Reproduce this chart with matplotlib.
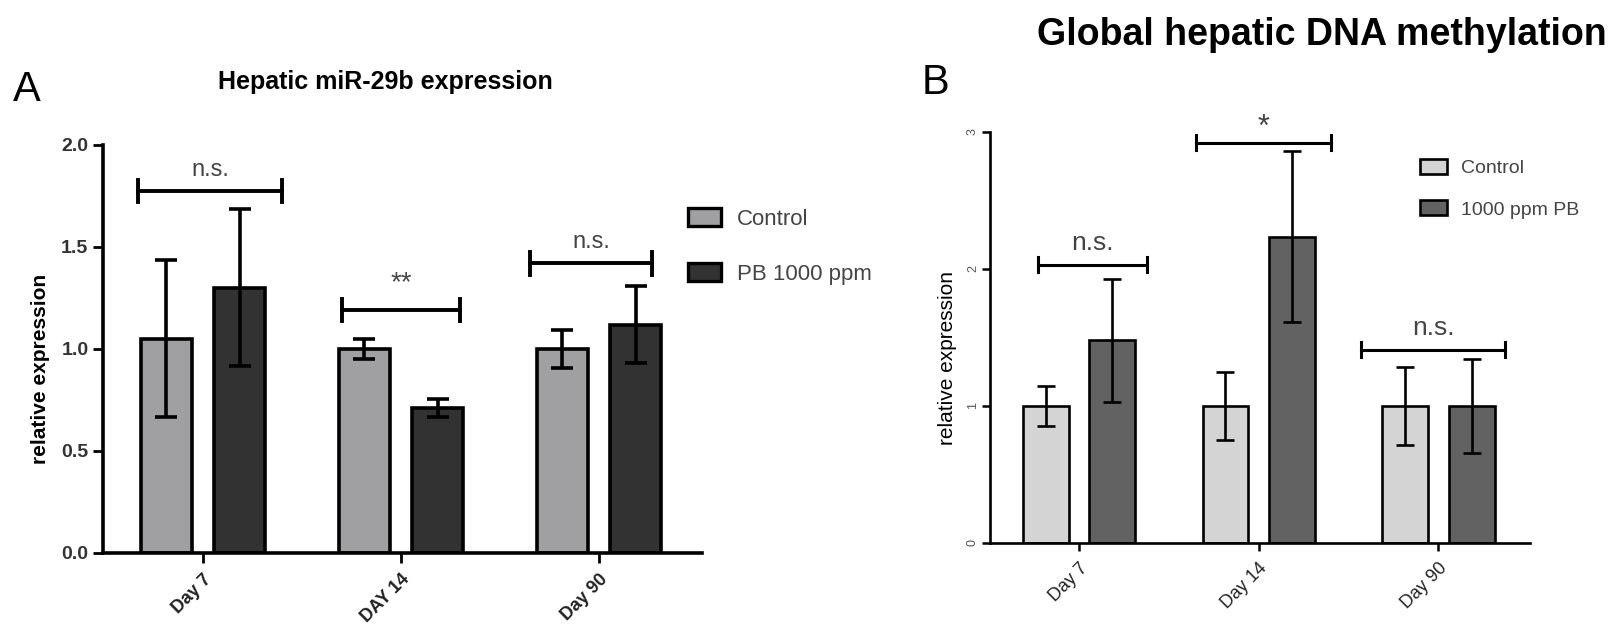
import matplotlib.pyplot as plt
import numpy as np
from matplotlib.patches import Patch

plt.rcParams['font.family'] = ['Liberation Sans', 'DejaVu Sans']

# Panel A: hepatic miR-29b expression
days_a = ['Day 7', 'DAY 14', 'Day 90']
ctrl_a = [1.05, 1.00, 1.00]
ctrl_a_err = [0.385, 0.05, 0.095]
pb_a = [1.30, 0.71, 1.12]
pb_a_err = [0.385, 0.043, 0.19]
sig_a = ['n.s.', '**', 'n.s.']
sig_a_y = [1.775, 1.19, 1.42]
sig_a_span = [(-0.33, 0.40), (-0.30, 0.30), (-0.35, 0.27)]

# Panel B: global hepatic DNA methylation
days_b = ['Day 7', 'Day 14', 'Day 90']
ctrl_b = [1.0, 1.0, 1.0]
ctrl_b_err = [0.146, 0.245, 0.285]
pb_b = [1.48, 2.235, 1.0]
pb_b_err = [0.45, 0.625, 0.345]
sig_b = ['n.s.', '*', 'n.s.']
sig_b_y = [2.03, 2.92, 1.41]
sig_b_span = [(-0.23, 0.38), (-0.35, 0.40), (-0.43, 0.37)]


def draw_panel(ax, days, ctrl, ctrl_err, pb, pb_err, colors, lw, cap, width):
    x = np.arange(len(days))
    ekw = dict(elinewidth=lw, capsize=cap, capthick=lw, ecolor='black')
    ax.bar(x - 0.185, ctrl, width, color=colors[0], edgecolor='black', linewidth=lw,
           yerr=ctrl_err, error_kw=ekw)
    ax.bar(x + 0.185, pb, width, color=colors[1], edgecolor='black', linewidth=lw,
           yerr=pb_err, error_kw=ekw)
    ax.spines['top'].set_visible(False)
    ax.spines['right'].set_visible(False)
    ax.spines['left'].set_linewidth(lw)
    ax.spines['bottom'].set_linewidth(lw)
    ax.set_xticks(x)
    return x


def draw_brackets(ax, x, labels, ys, spans, d, off, star_off, lw, size, star_size):
    for xi, lab, y, (a, b) in zip(x, labels, ys, spans):
        x0, x1 = xi + a, xi + b
        ax.plot([x0, x1], [y, y], color='black', lw=lw, clip_on=False)
        ax.plot([x0, x0], [y - d, y + d], color='black', lw=lw, clip_on=False)
        ax.plot([x1, x1], [y - d, y + d], color='black', lw=lw, clip_on=False)
        star = '*' in lab
        ax.text((x0 + x1) / 2, y + (star_off if star else off), lab,
                ha='center', va='bottom', fontsize=star_size if star else size,
                color='#444444', clip_on=False)


fig = plt.figure(figsize=(16.19, 6.41), dpi=100)

# ---- A ----
ax_a = fig.add_axes([0.0636, 0.1373, 0.37, 0.6365])
xa = draw_panel(ax_a, days_a, ctrl_a, ctrl_a_err, pb_a, pb_a_err,
                ['#a0a0a2', '#323232'], 2.6, 8, 0.26)
ax_a.set_xlim(-0.505, 2.52)
ax_a.set_ylim(0, 2.0)
ax_a.set_yticks([0, 0.5, 1.0, 1.5, 2.0])
ax_a.set_yticklabels(['%.1f' % v for v in [0, 0.5, 1.0, 1.5, 2.0]],
                     fontsize=14, fontweight='bold', color='#333333')
ax_a.set_xticklabels(days_a, rotation=45, ha='right', rotation_mode='anchor',
                     fontsize=13, fontweight='bold', color='#222222')
ax_a.tick_params(axis='both', length=7, width=2)
ax_a.tick_params(axis='x', pad=6)
ax_a.set_ylabel('relative expression', fontsize=15, fontweight='bold')
ax_a.yaxis.set_label_coords(-0.088, 0.45)
draw_brackets(ax_a, xa, sig_a, sig_a_y, sig_a_span, 0.055, 0.05, 0.07, 2.8, 17, 20)

leg_a = [Patch(facecolor='#a0a0a2', edgecolor='black', linewidth=2.4),
         Patch(facecolor='#323232', edgecolor='black', linewidth=2.4)]
fig.legend(leg_a, ['Control', 'PB 1000 ppm'], loc='upper left',
           bbox_to_anchor=(0.425, 0.676), frameon=False, fontsize=16,
           handlelength=1.5, handleheight=0.9, handletextpad=0.7,
           labelspacing=1.5, borderpad=0, borderaxespad=0, labelcolor='#444444')

fig.text(0.238, 0.872, 'Hepatic miR-29b expression', ha='center', va='center',
         fontsize=18, fontweight='bold')
fig.text(0.008, 0.86, 'A', ha='left', va='center', fontsize=30)

# ---- B ----
ax_b = fig.add_axes([0.6115, 0.1529, 0.3335, 0.6412])
xb = draw_panel(ax_b, days_b, ctrl_b, ctrl_b_err, pb_b, pb_b_err,
                ['#d4d4d4', '#626262'], 1.9, 6.5, 0.256)
ax_b.set_xlim(-0.496, 2.51)
ax_b.set_ylim(0, 3)
ax_b.set_yticks([0, 1, 2, 3])
ax_b.set_yticklabels(['0', '1', '2', '3'], fontsize=9, rotation=90,
                     va='center', color='#555555')
ax_b.set_xticklabels(days_b, rotation=45, ha='right', rotation_mode='anchor',
                     fontsize=13, color='#222222')
ax_b.tick_params(axis='both', length=6, width=1.8)
ax_b.tick_params(axis='y', pad=2)
ax_b.tick_params(axis='x', pad=6)
ax_b.set_ylabel('relative expression', fontsize=15)
ax_b.yaxis.set_label_coords(-0.062, 0.45)
draw_brackets(ax_b, xb, sig_b, sig_b_y, sig_b_span, 0.055, 0.07, 0.0, 2.2, 19, 22)

leg_b = [Patch(facecolor='#d4d4d4', edgecolor='black', linewidth=1.9),
         Patch(facecolor='#626262', edgecolor='black', linewidth=1.9)]
fig.legend(leg_b, ['Control', '1000 ppm PB'], loc='upper left',
           bbox_to_anchor=(0.877, 0.752), frameon=False, fontsize=14,
           handlelength=1.4, handleheight=0.8, handletextpad=0.7,
           labelspacing=1.2, borderpad=0, borderaxespad=0, labelcolor='#444444')

fig.text(0.8166, 0.945, 'Global hepatic DNA methylation', ha='center', va='center',
         fontsize=27, fontweight='bold')
fig.text(0.569, 0.87, 'B', ha='left', va='center', fontsize=30)

fig.savefig('out.png', dpi=100)
